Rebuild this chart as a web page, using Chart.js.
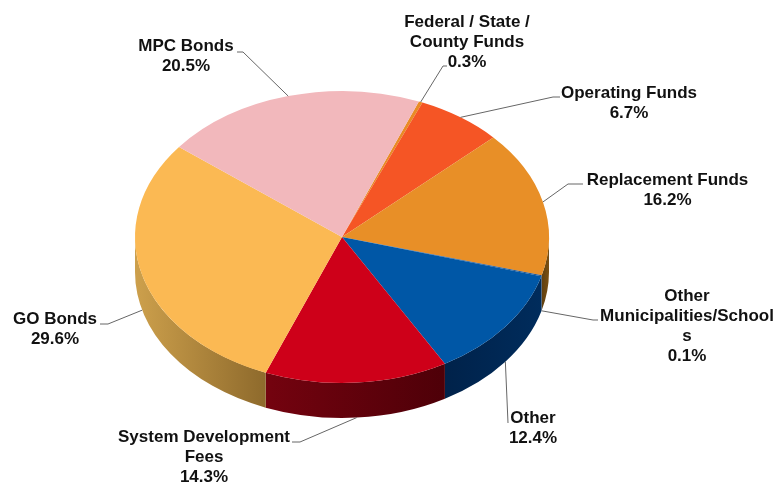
<!DOCTYPE html>
<html>
<head>
<meta charset="utf-8">
<title>Funding sources</title>
<script src="https://cdn.jsdelivr.net/npm/chart.js@4"></script>
<style>
  body { margin: 0; background: #fff; }
  canvas { display: block; }
</style>
</head>
<body>
<canvas id="pieChart" width="773" height="485"></canvas>
<script>
// slices run clockwise, starting at Federal / State / County Funds
const categories = [
  ["Federal / State /", "County Funds"],
  ["Operating Funds"],
  ["Replacement Funds"],
  ["Other", "Municipalities/School", "s"],
  ["Other"],
  ["System Development", "Fees"],
  ["GO Bonds"],
  ["MPC Bonds"]
];
const values = [0.3, 6.7, 16.2, 0.1, 12.4, 14.3, 29.6, 20.5];

const topColors = ["#E98B25", "#F55525", "#E88F27", "#1A4F8C", "#0057A6", "#CE0019", "#FBB953", "#F2B8BC"];
// side wall gradient, left colour then right colour
const sideColors = [
  ["#7A4A12", "#7A4A12"], ["#80301A", "#80301A"], ["#5F3F10", "#7A5012"], ["#00234C", "#00234C"],
  ["#00224A", "#002C5C"], ["#74030F", "#4E0008"], ["#CDA04C", "#8E6A2C"], ["#9A7478", "#9A7478"]
];

const startDegrees = 21.8;
const squash = 0.705;
const depth = 35;
const textColor = "#111111";

// elbow of each leader line, then centre x and first baseline of its text
const calloutElbows = [[[443, 66], [447, 66]], [[553, 97], [560, 97]], [[568, 184], [583, 184]], [[593, 320], [598, 320]],
  [[508, 423]], [[300, 442], [292, 442]], [[108, 324], [100, 324]], [[243, 52], [237, 52]]];
const calloutText = [[467, 27], [629, 98], [667.5, 185], [687, 301], [533, 423], [204, 442], [55, 324], [186, 51]];
const lineHeight = 20;

const pie3d = {
  id: "pie3d",
  beforeDatasetsDraw(chart) {
    const ctx = chart.ctx;
    const arcs = chart.getDatasetMeta(0).data;
    arcs.forEach((arc, i) => {
      const from = Math.max(arc.startAngle, 0);
      const to = Math.min(arc.endAngle, Math.PI);
      if (to <= from) return;
      const r = arc.outerRadius;
      const ry = r * squash;
      const grad = ctx.createLinearGradient(arc.x + r * Math.cos(to), 0, arc.x + r * Math.cos(from), 0);
      grad.addColorStop(0, sideColors[i][0]);
      grad.addColorStop(1, sideColors[i][1]);
      ctx.beginPath();
      ctx.ellipse(arc.x, arc.y, r, ry, 0, from, to, false);
      ctx.ellipse(arc.x, arc.y + depth, r, ry, 0, to, from, true);
      ctx.closePath();
      ctx.fillStyle = grad;
      ctx.fill();
    });
    const first = arcs[0];
    ctx.save();
    ctx.translate(first.x, first.y);
    ctx.scale(1, squash);
    ctx.translate(-first.x, -first.y);
  },
  afterDatasetsDraw(chart) {
    const ctx = chart.ctx;
    ctx.restore();

    chart.getDatasetMeta(0).data.forEach((arc, i) => {
      const mid = (arc.startAngle + arc.endAngle) / 2;
      const sinMid = Math.sin(mid);
      const x = arc.x + arc.outerRadius * Math.cos(mid);
      // slices at the front hang their leader from the bottom of the wall
      const front = sinMid > 0.1;
      const y = arc.y + arc.outerRadius * squash * sinMid + (front ? depth : 0);

      ctx.beginPath();
      ctx.moveTo(x, y);
      calloutElbows[i].forEach(p => ctx.lineTo(p[0], p[1]));
      ctx.strokeStyle = "#666666";
      ctx.lineWidth = 1;
      ctx.stroke();

      const lines = categories[i].concat(values[i].toFixed(1) + "%");
      ctx.font = "bold 17px 'Liberation Sans', Arial, sans-serif";
      ctx.fillStyle = textColor;
      ctx.textAlign = "center";
      ctx.textBaseline = "alphabetic";
      lines.forEach((line, n) => {
        ctx.fillText(line, calloutText[i][0], calloutText[i][1] + n * lineHeight);
      });
    });
  }
};

new Chart(document.getElementById("pieChart"), {
  type: "pie",
  data: {
    labels: categories.map(c => c.join(" ")),
    datasets: [{
      data: values,
      backgroundColor: topColors,
      borderWidth: 0,
      clip: false
    }]
  },
  options: {
    responsive: false,
    animation: false,
    rotation: startDegrees,
    radius: 207,
    layout: { padding: { right: 89, bottom: 11 } },
    plugins: {
      legend: { display: false },
      tooltip: { enabled: false }
    }
  },
  plugins: [pie3d]
});
</script>
</body>
</html>
